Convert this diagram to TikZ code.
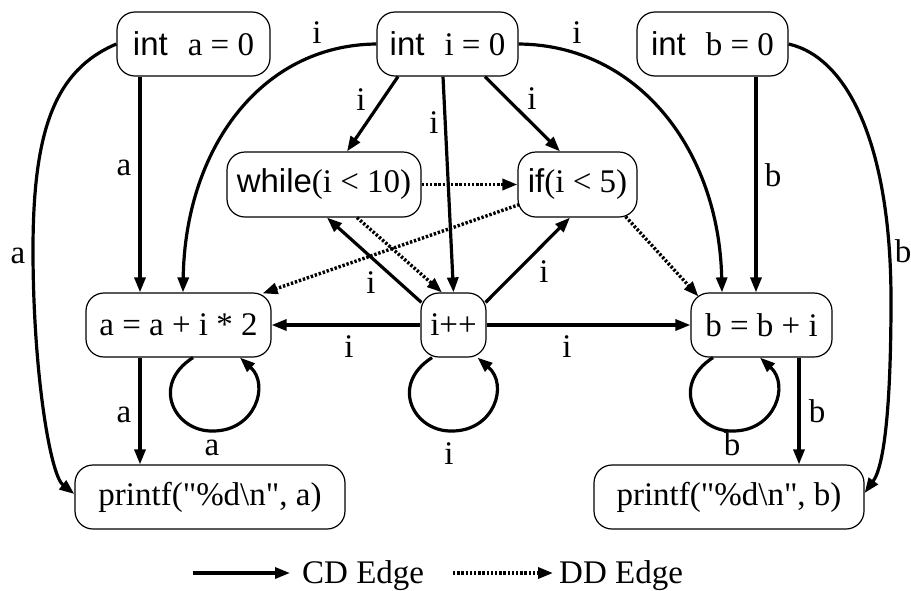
\documentclass[tikz,border=0pt]{standalone}
\usepackage{fontspec}
\setmainfont{Liberation Serif}
\setsansfont{Liberation Sans}
\usetikzlibrary{arrows.meta,calc}
\begin{document}
\begin{tikzpicture}[x=1pt,y=-1pt,
  every node/.style={font=\fontsize{33}{39}\selectfont},
  box/.style={draw, line width=1.2pt, rounded corners=18pt, inner sep=0pt, minimum height=64pt},
  cd/.style={line width=3.2pt, -{Triangle[length=15pt,width=11pt]}},
  dd/.style={line width=3.4pt, dash pattern=on 2.4pt off 1.8pt, -{Triangle[length=15pt,width=11pt]}},
  lbl/.style={inner sep=0pt, anchor=base}]
\useasboundingbox (0,0) rectangle (911,590);
% nodes
\node[box, minimum width=153pt] (ia) at (193.5,44) {{\sffamily int}\hspace{20pt}a = 0};
\node[box, minimum width=141pt] (ii) at (447.5,44) {{\sffamily int}\hspace{20pt}i = 0};
\node[box, minimum width=151pt] (ib) at (712.5,44) {{\sffamily int}\hspace{20pt}b = 0};
\node[box, minimum width=194pt, minimum height=65pt] (wh) at (324,184.5) {{\sffamily while}(i < 10)};
\node[box, minimum width=119pt, minimum height=65pt] (ifn) at (577.5,184.5) {{\sffamily if}(i < 5)};
\node[box, minimum width=185pt] (aa) at (178.5,325) {a = a + i * 2};
\node[box, minimum width=65pt] (inc) at (453.5,325) {i++};
\node[box, minimum width=141pt] (bb) at (761.5,325) {b = b + i};
\node[box, minimum width=270pt] (pa) at (210,497) {printf(\textquotedbl\%d\textbackslash n\textquotedbl, a)};
\node[box, minimum width=270pt] (pb) at (729,497) {printf(\textquotedbl\%d\textbackslash n\textquotedbl, b)};
% straight CD edges
\draw[cd] ($(ia.south)+(-53.5,0)$) -- ($(aa.north)+(-38.5,0)$);
\draw[cd] ($(aa.south)+(-38.5,0)$) -- ($(pa.north)+(-70,0)$);
\draw[cd] ($(ib.south)+(43.5,0)$) -- ($(bb.north)+(-5.5,0)$);
\draw[cd] ($(bb.south)+(37.5,0)$) -- ($(pb.north)+(70,0)$);
\draw[cd] ($(ii.south)+(-49.5,0)$) -- ($(wh.north)+(23,0)$);
\draw[cd] ($(ii.south)+(37.5,0)$) -- ($(ifn.north)+(-17.5,0)$);
\draw[cd] ($(ii.south)+(-4.5,0)$) -- (inc.north);
\draw[cd] (inc.west) -- (aa.east);
\draw[cd] (inc.east) -- (bb.west);
\draw[cd] ($(inc.north west)+(1,10)$) -- ($(wh.south)+(3,0)$);
\draw[cd] ($(inc.north east)+(-1,10)$) -- ($(ifn.south)+(-7.5,0)$);
% curved CD edges
\draw[cd] (ii.west) .. controls (260,45) and (185,150) .. ($(aa.north)+(4.5,0)$);
\draw[cd] (ii.east) .. controls (638,45) and (719,150) .. ($(bb.north)+(-39.5,0)$);
\draw[cd] (ia.west) .. controls (55,70) and (33,130) .. (33,250) .. controls (33,370) and (50,475) .. ($(pa.west)+(0,-3)$);
\draw[cd] (ib.east) .. controls (850,58) and (891,150) .. (891,300) .. controls (891,400) and (885,465) .. ($(pb.east)+(0,-4)$);
% self loops
\draw[cd] ($(aa.south)+(14.5,0)$) .. controls (150,385) and (175,432) .. (213,431) .. controls (255,431) and (270,385) .. ($(aa.south)+(61.5,0)$);
\draw[cd] ($(inc.south)+(-21.5,0)$) .. controls (389,385) and (414,432) .. (452,431) .. controls (494,431) and (509,385) .. ($(inc.south)+(24,0)$);
\draw[cd] ($(bb.south)+(-48.5,0)$) .. controls (670,385) and (695,432) .. (733,431) .. controls (775,431) and (790,385) .. ($(bb.south)+(-1.5,0)$);
% DD edges
\draw[dd] (wh.east) -- (ifn.west);
\draw[dd] ($(wh.south)+(33,0)$) -- ($(inc.north)+(-11.5,0)$);
\draw[dd] ($(ifn.west)+(2,20)$) -- ($(aa.north east)+(-9,1)$);
\draw[dd] ($(ifn.south east)+(-12,-1)$) -- ($(bb.north west)+(8,4)$);
% labels
\node[lbl] (l1) at (124,175) {a};
\node[lbl] (l2) at (18,263) {a};
\node[lbl] (l3) at (124,422) {a};
\node[lbl] (l4) at (212,455) {a};
\node[lbl] (l5) at (317,43) {i};
\node[lbl] (l6) at (577,43) {i};
\node[lbl] (l7) at (361,110) {i};
\node[lbl] (l8) at (532,109) {i};
\node[lbl] (l9) at (434,133) {i};
\node[lbl] (l10) at (371,293) {i};
\node[lbl] (l11) at (544,282) {i};
\node[lbl] (l12) at (349,357) {i};
\node[lbl] (l13) at (567,357) {i};
\node[lbl] (l14) at (449,464) {i};
\node[lbl] (l15) at (773,186) {b};
\node[lbl] (l16) at (817,422) {b};
\node[lbl] (l17) at (732,455) {b};
\node[lbl] (l18) at (903,262) {b};
% legend
\coordinate (cds) at (193,573);
\node[inner sep=0pt, anchor=base west] (cdt) at (302,583) {CD Edge};
\draw[cd] (cds) -- ($(cdt.base west)+(-12,-10)$);
\coordinate (dds) at (453,573);
\node[inner sep=0pt, anchor=base west] (ddt) at (559,583) {DD Edge};
\draw[dd] (dds) -- ($(ddt.base west)+(-6,-10)$);
\end{tikzpicture}
\end{document}
